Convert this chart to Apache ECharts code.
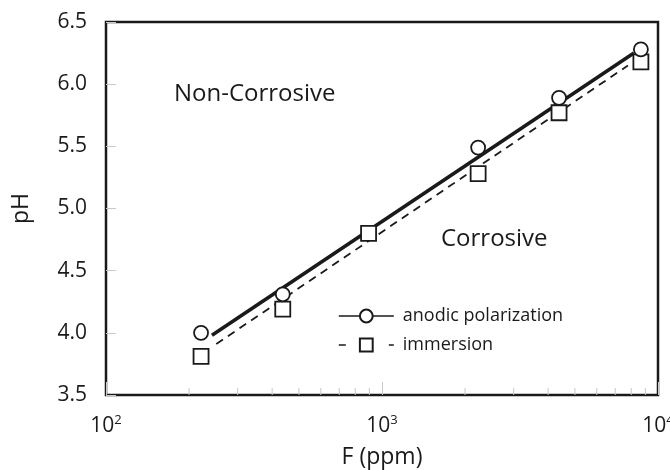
<!DOCTYPE html>
<html>
<head>
<meta charset="utf-8">
<script src="https://cdn.jsdelivr.net/npm/echarts@6/dist/echarts.min.js"></script>
<style>
  html, body { margin: 0; padding: 0; background: #fff; }
  #main { width: 670px; height: 470px; }
</style>
</head>
<body>
<div id="main"></div>
<script>
// measured points, F in ppm vs pH
var anodicF = [221, 437, 2230, 4380, 8670];
var anodicPH = [4.0, 4.31, 5.49, 5.89, 6.28];
var immersionF = [221, 437, 894, 2230, 4380, 8670];
var immersionPH = [3.81, 4.19, 4.8, 5.28, 5.77, 6.18];

// fitted lines (end points)
var anodicFitF = [242, 8180];
var anodicFitPH = [3.98, 6.25];
var immersionFitF = [251, 7780];
var immersionFitPH = [3.91, 6.15];

// minor ticks on the log axis
var minorTicks = [200, 300, 400, 500, 600, 700, 800, 900, 2000, 3000, 4000, 5000, 6000, 7000, 8000, 9000];
var xTickLabels = { 100: ['10', '2'], 1000: ['10', '3'], 10000: ['10', '4'] };

function zip(a, b) {
  var out = [];
  for (var i = 0; i < a.length; i++) out.push([a[i], b[i]]);
  return out;
}

var font = 'Open Sans';
var ink = '#1a1a1a';

var chart = echarts.init(document.getElementById('main'));

var option = {
  animation: false,
  backgroundColor: '#fff',
  textStyle: { fontFamily: font, color: ink },
  grid: {
    left: 106, right: 12, top: 22, bottom: 75,
    outerBoundsMode: 'none', containLabel: false,
    show: true, borderColor: ink, borderWidth: 2.5, backgroundColor: 'transparent'
  },
  xAxis: {
    type: 'log', logBase: 10, min: 100, max: 10000,
    name: 'F (ppm)', nameLocation: 'middle', nameGap: 51,
    nameTextStyle: { fontSize: 23, color: ink, fontFamily: font },
    axisLine: { show: false },
    axisTick: { show: true, inside: true, length: 13, lineStyle: { color: '#c8c8c8', width: 1 } },
    splitLine: { show: false },
    axisLabel: {
      margin: 19,
      formatter: function (v) {
        var t = xTickLabels[Math.round(v)];
        return t ? '{b|' + t[0] + '}{s|' + t[1] + '}' : '';
      },
      rich: {
        b: { fontSize: 21, color: ink, fontFamily: font },
        s: { fontSize: 13, color: ink, fontFamily: font, verticalAlign: 'top', padding: [0, 0, 12, 0] }
      }
    }
  },
  yAxis: {
    type: 'value', min: 3.5, max: 6.5, interval: 0.5,
    name: 'pH', nameLocation: 'middle', nameGap: 73,
    nameTextStyle: { fontSize: 23, color: ink, fontFamily: font },
    axisLine: { show: false },
    axisTick: { show: true, inside: true, length: 10, lineStyle: { color: '#c8c8c8', width: 1 } },
    splitLine: { show: false },
    axisLabel: {
      margin: 19, fontSize: 21, color: ink, fontFamily: font,
      formatter: function (v) { return v.toFixed(1); }
    }
  },
  legend: {
    orient: 'vertical', left: 338, top: 307, padding: 0,
    itemWidth: 55, itemHeight: 16, itemGap: 11,
    textStyle: { fontSize: 18, color: ink, fontFamily: font, padding: [0, 0, 0, 4] },
    data: [
      { name: 'anodic polarization', lineStyle: { width: 1.6, type: 'solid', color: ink } },
      { name: 'immersion', lineStyle: { width: 1.6, type: [7, 43], color: ink } }
    ]
  },
  graphic: [
    { type: 'text', x: 174, y: 94, style: { text: 'Non-Corrosive', fontSize: 24, fill: ink, fontFamily: font, verticalAlign: 'middle' } },
    { type: 'text', x: 441, y: 239, style: { text: 'Corrosive', fontSize: 24, fill: ink, fontFamily: font, verticalAlign: 'middle' } }
  ],
  series: [
    {
      name: 'anodic polarization', type: 'line',
      data: zip(anodicFitF, anodicFitPH),
      symbol: 'circle', showSymbol: false, z: 2,
      lineStyle: { color: ink, width: 3.6 },
      itemStyle: { color: '#fff', borderColor: ink, borderWidth: 1.8 }
    },
    {
      name: 'immersion', type: 'line',
      data: zip(immersionFitF, immersionFitPH),
      symbol: 'rect', showSymbol: false, z: 2,
      lineStyle: { color: ink, width: 1.8, type: [8, 6] },
      itemStyle: { color: '#fff', borderColor: ink, borderWidth: 1.8 }
    },
    {
      name: 'anodic polarization', type: 'scatter',
      data: zip(anodicF, anodicPH),
      symbol: 'circle', symbolSize: 14, z: 4,
      itemStyle: { color: '#fff', borderColor: ink, borderWidth: 1.8, opacity: 1 }
    },
    {
      name: 'immersion', type: 'scatter',
      data: zip(immersionF, immersionPH),
      symbol: 'rect', symbolSize: 15, z: 3,
      itemStyle: { color: '#fff', borderColor: ink, borderWidth: 1.8, opacity: 1 }
    },
    {
      type: 'custom', silent: true, clip: false, z: 1,
      data: minorTicks.map(function (v) { return [v, 3.5]; }),
      encode: { x: 0, y: 1 },
      renderItem: function (params, api) {
        var p = api.coord([api.value(0), api.value(1)]);
        return {
          type: 'line',
          shape: { x1: p[0], y1: p[1], x2: p[0], y2: p[1] - 7 },
          style: { stroke: '#c8c8c8', lineWidth: 1 }
        };
      }
    }
  ]
};

chart.setOption(option);
</script>
</body>
</html>
